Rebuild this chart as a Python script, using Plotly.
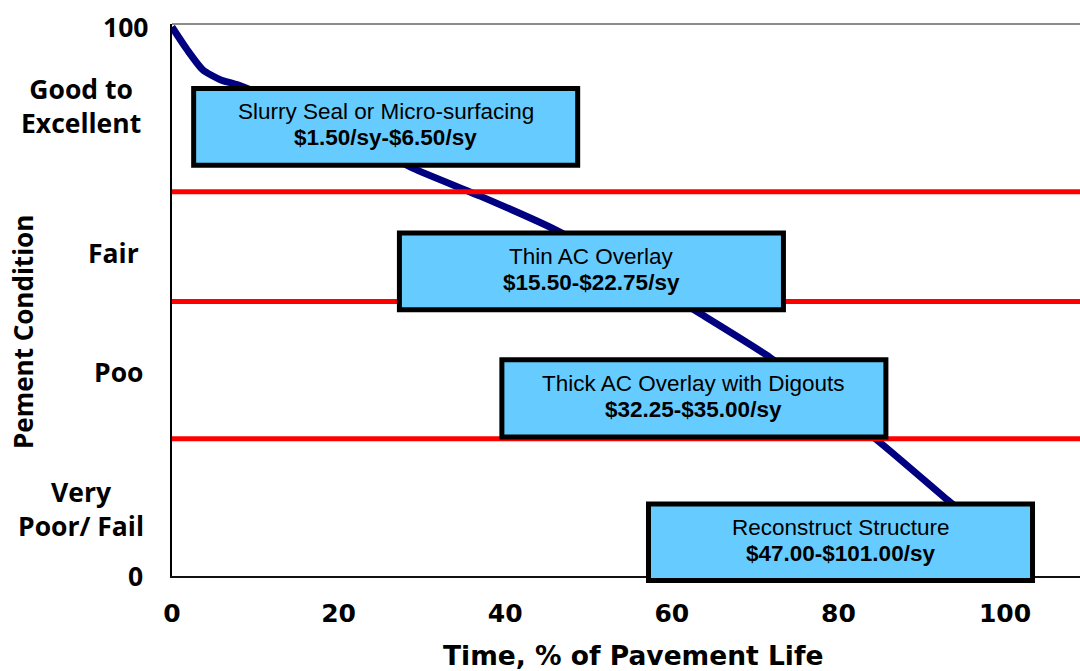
import plotly.graph_objects as go

# Pavement condition vs. time (% of pavement life)
life_pct = [0, 1.8, 3.7, 5.8, 7.8, 15, 22, 28.9, 37, 45.7, 55, 63.4, 71.8, 79, 85.4, 93.2, 100]
condition = [100, 95.9, 92.2, 90.4, 89.5, 85, 79.8, 74.3, 69.2, 63.3, 55.5, 47.8, 39.8, 31.5, 23.8, 13.7, 5]

# Condition band boundaries
band_limits = [70, 50, 25]

# Condition scale labels and the index value each one sits at
scale_labels = ["100", "Good to<br>Excellent", "Fair", "Poo", "Very<br>Poor/ Fail", "0"]
scale_values = [100, 85.6, 58.8, 37.1, 12.2, 0]

# Treatments and unit costs
treatments = ["Slurry Seal or Micro-surfacing", "Thin AC Overlay",
              "Thick AC Overlay with Digouts", "Reconstruct Structure"]
costs = ["$1.50/sy-$6.50/sy", "$15.50-$22.75/sy", "$32.25-$35.00/sy", "$47.00-$101.00/sy"]

x_ticks = [0, 20, 40, 60, 80, 100]

# ---- layout constants ----
W, H = 1080, 671
ML, MR, MT, MB = 172, 0, 24, 95
X_RANGE = [0, 109.0]
Y_RANGE = [0, 100.55]
PLOT_W = W - ML - MR

# treatment box extents (x0, x1, y0, y1) in axis units
box_extents = [(2.6, 48.7, 74.8, 88.8),
               (27.3, 73.4, 48.5, 62.5),
               (39.6, 85.7, 25.3, 39.4),
               (57.2, 103.3, -0.8, 13.1)]

# label placement: (pixel x, anchor)
label_place = [(150, "right"), (81, "center"), (141, "right"),
               (145, "right"), (81, "center"), (145, "right")]


def xp(v):
    return (v - X_RANGE[0]) / (X_RANGE[1] - X_RANGE[0])


def yp(v):
    return (v - Y_RANGE[0]) / (Y_RANGE[1] - Y_RANGE[0])


LABEL_FONT = "Open Sans, Lato, sans-serif"
BOX_FONT = "Liberation Sans, Arial, sans-serif"
AXIS_FONT = "DejaVu Sans, Liberation Sans, sans-serif"

fig = go.Figure()

fig.add_trace(go.Scatter(
    x=life_pct, y=condition, mode="lines",
    line=dict(color="#000080", width=7, shape="spline", smoothing=0.6),
    hoverinfo="skip", showlegend=False,
))

for lim in band_limits:
    fig.add_trace(go.Scatter(
        x=[X_RANGE[0], X_RANGE[1]], y=[lim, lim], mode="lines",
        line=dict(color="#FF0000", width=5),
        hoverinfo="skip", showlegend=False,
    ))

shapes = [
    # top frame line
    dict(type="line", xref="paper", yref="paper", x0=0, x1=1, y0=1, y1=1,
         line=dict(color="#8c8c8c", width=2), layer="above"),
]
annotations = []

for (x0, x1, y0, y1), name, cost in zip(box_extents, treatments, costs):
    shapes.append(dict(type="rect", xref="paper", yref="paper",
                       x0=xp(x0), x1=xp(x1), y0=yp(y0), y1=yp(y1),
                       fillcolor="#66CCFF", line=dict(color="black", width=5),
                       layer="above"))
    cx = xp((x0 + x1) / 2)
    cy = yp((y0 + y1) / 2)
    annotations.append(dict(xref="paper", yref="paper", x=cx, y=cy, text=name,
                            showarrow=False, xanchor="center", yanchor="middle",
                            yshift=15, font=dict(family=BOX_FONT, size=22.5, color="black")))
    annotations.append(dict(xref="paper", yref="paper", x=cx, y=cy, text="<b>" + cost + "</b>",
                            showarrow=False, xanchor="center", yanchor="middle",
                            yshift=-11, font=dict(family=BOX_FONT, size=22.5, color="black")))

for text, val, (px, anchor) in zip(scale_labels, scale_values, label_place):
    annotations.append(dict(xref="paper", yref="y", x=(px - ML) / PLOT_W, y=val,
                            text="<b>" + text + "</b>", showarrow=False,
                            xanchor=anchor, yanchor="middle", align="center",
                            font=dict(family=LABEL_FONT, size=26.5, color="black")))

# axis titles
annotations.append(dict(xref="paper", yref="paper", x=(23 - ML) / PLOT_W, y=(576 - 332) / (H - MT - MB),
                        text="<b>Pement Condition</b>", textangle=-90, showarrow=False,
                        xanchor="center", yanchor="middle",
                        font=dict(family=LABEL_FONT, size=26, color="black")))
annotations.append(dict(xref="paper", yref="paper", x=(633 - ML) / PLOT_W, y=(576 - 655) / (H - MT - MB),
                        text="<b>Time, % of Pavement Life</b>", showarrow=False,
                        xanchor="center", yanchor="middle",
                        font=dict(family=AXIS_FONT, size=26.5, color="black")))

fig.update_layout(
    width=W, height=H,
    margin=dict(l=ML, r=MR, t=MT, b=MB, pad=0),
    paper_bgcolor="white", plot_bgcolor="white",
    shapes=shapes, annotations=annotations,
    xaxis=dict(range=X_RANGE, tickvals=x_ticks, ticktext=["<b>%d</b>" % t for t in x_ticks],
               showgrid=False, zeroline=False, showline=True, linecolor="#111", linewidth=2,
               ticks="outside", ticklen=14, tickcolor="rgba(0,0,0,0)",
               tickfont=dict(family=AXIS_FONT, size=25, color="black")),
    yaxis=dict(range=Y_RANGE, showticklabels=False, showgrid=False, zeroline=False,
               showline=True, linecolor="black", linewidth=2, ticks=""),
)

fig.write_html("out.html")
